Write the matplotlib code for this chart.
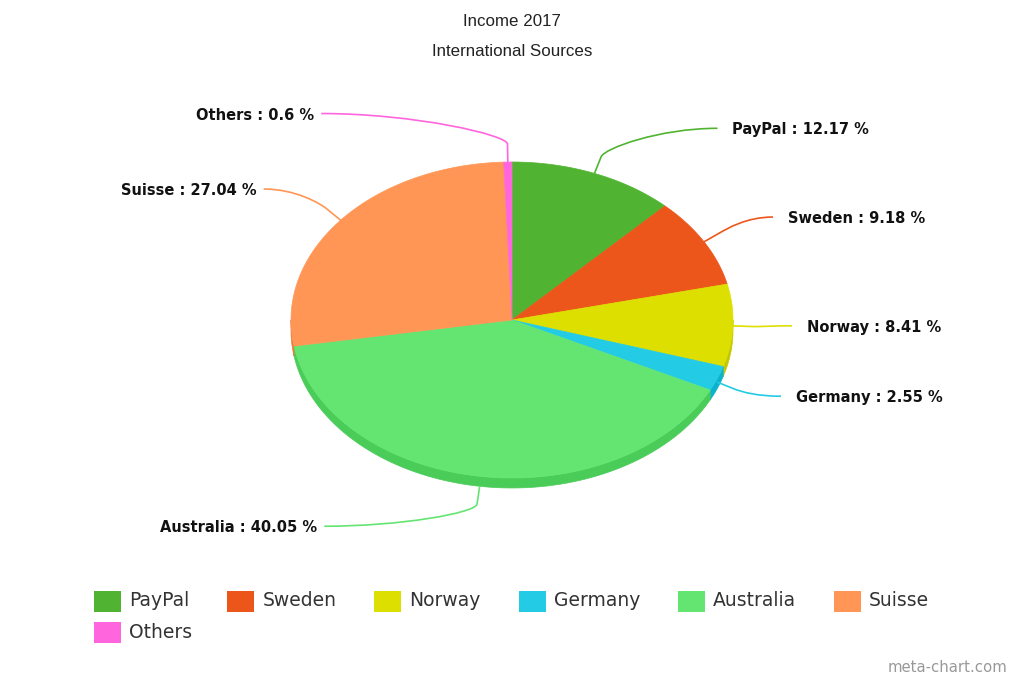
import numpy as np
import matplotlib
matplotlib.use("Agg")
import matplotlib.pyplot as plt
from matplotlib.patches import Polygon, Rectangle, PathPatch
from matplotlib.path import Path
from matplotlib.colors import to_rgb

# ---- data ----
title = "Income 2017"
subtitle = "International Sources"
labels = ["PayPal", "Sweden", "Norway", "Germany", "Australia", "Suisse", "Others"]
values = [12.17, 9.18, 8.41, 2.55, 40.05, 27.04, 0.6]
colors = ["#50B432", "#ED561B", "#DDDF00", "#24CBE5", "#64E572", "#FF9655", "#FF66DD"]
credit = "meta-chart.com"

W, H = 1024, 683
fig = plt.figure(figsize=(W / 100, H / 100), dpi=100)
ax = fig.add_axes([0, 0, 1, 1])
ax.set_xlim(0, W)
ax.set_ylim(H, 0)
ax.axis("off")

cx, cy, rx, ry, depth = 512, 320, 221, 158, 10
TITLE_FONT = "Liberation Sans"
LABEL_FONT = "DejaVu Sans"
LEG_FONT = "DejaVu Sans"


def pt(t, kx=0, ky=0, dz=0):
    return (cx + (rx + kx) * np.sin(t), cy - (ry + ky) * np.cos(t) + dz)


def darker(c, amt=0.1):
    r, g, b = to_rgb(c)
    return (max(r - amt, 0), max(g - amt, 0), max(b - amt, 0))


vals = np.array(values, dtype=float)
fr = vals / vals.sum()
ends = np.cumsum(fr) * 2 * np.pi
starts = ends - fr * 2 * np.pi

# sides (front half only)
for a, b, c in zip(starts, ends, colors):
    lo, hi = max(a, np.pi / 2), min(b, 3 * np.pi / 2)
    if hi > lo:
        ts = np.linspace(lo, hi, 80)
        top = [pt(t) for t in ts]
        bot = [pt(t, dz=depth) for t in ts[::-1]]
        ax.add_patch(Polygon(top + bot, closed=True, facecolor=darker(c),
                             edgecolor=darker(c), lw=0.5, zorder=1))

# top faces
for a, b, c in zip(starts, ends, colors):
    n = max(int((b - a) / (2 * np.pi) * 400), 3)
    ts = np.linspace(a, b, n)
    poly = [(cx, cy)] + [pt(t) for t in ts]
    ax.add_patch(Polygon(poly, closed=True, facecolor=c, edgecolor=c,
                         lw=0.5, zorder=2))

# data labels with connectors
Ry, R, k = 205, 280, 18
for lab, v, a, b, c in zip(labels, values, starts, ends, colors):
    t = (a + b) / 2
    front = max(-np.cos(t), 0.0)
    dz = depth * front
    E = np.array(pt(t, dz=dz))
    B = np.array(pt(t, k, k, dz))
    ly = cy - Ry * np.cos(t) + 5 * front
    side = 1 if np.sin(t) >= -1e-9 else -1
    lx = cx + side * np.sqrt(max(R ** 2 - (ly - cy) ** 2, 0))
    L = np.array([lx, ly - 1.5])
    d = B - E
    C1 = B + d * 0.5
    C2 = np.array([lx - side * 0.5 * abs(lx - B[0]), L[1]])
    path = Path([tuple(E), tuple(B), tuple(C1), tuple(C2), tuple(L)],
                [Path.MOVETO, Path.LINETO, Path.CURVE4, Path.CURVE4, Path.CURVE4])
    ax.add_patch(PathPatch(path, facecolor="none", edgecolor=c, lw=1.2, zorder=3))
    txt = f"{lab} : {v:g} %"
    if side > 0:
        ax.text(lx + 15, ly, txt, ha="left", va="center", fontsize=10.5,
                fontweight="bold", family=LABEL_FONT, color="#111111", zorder=4)
    else:
        ax.text(lx - 7, ly, txt, ha="right", va="center", fontsize=10.5,
                fontweight="bold", family=LABEL_FONT, color="#111111", zorder=4)

# titles
ax.text(W / 2, 21, title, ha="center", va="center", fontsize=12.2,
        family=TITLE_FONT, color="#222222")
ax.text(W / 2, 51, subtitle, ha="center", va="center", fontsize=12.2,
        family=TITLE_FONT, color="#222222")

# legend (flow layout)
fig.canvas.draw()
rend = fig.canvas.get_renderer()
x, y = 94, 601
sw, sh = 27, 21
for lab, c in zip(labels, colors):
    tx = ax.text(0, 0, lab, ha="left", va="center", fontsize=13.5,
                 family=LEG_FONT, color="#333333")
    bb = tx.get_window_extent(renderer=rend)
    wpx = bb.width
    if x + sw + 8 + wpx > 960:
        x = 94
        y += 31
    ax.add_patch(Rectangle((x, y - sh / 2), sw, sh, facecolor=c, edgecolor="none"))
    tx.set_position((x + sw + 8, y))
    x = x + sw + 8 + wpx + 38

ax.text(1007, 668, credit, ha="right", va="center", fontsize=10.7,
        family=LEG_FONT, color="#999999")

fig.savefig("out.png", dpi=100, facecolor="white")
